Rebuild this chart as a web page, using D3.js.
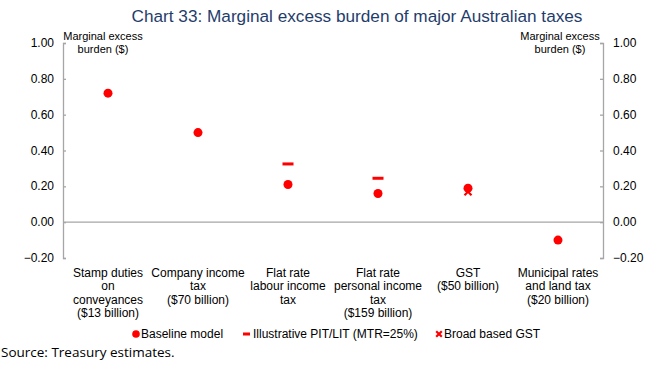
<!DOCTYPE html>
<html><head><meta charset="utf-8">
<script src="https://cdn.jsdelivr.net/npm/d3@7"></script>
<style>body{margin:0;background:#fff}svg{display:block}</style>
</head><body><svg id="c" width="660" height="365"></svg>
<script>
const categories = [
  ["Stamp duties","on","conveyances","($13 billion)"],
  ["Company income","tax","($70 billion)"],
  ["Flat rate","labour income","tax"],
  ["Flat rate","personal income","tax","($159 billion)"],
  ["GST","($50 billion)"],
  ["Municipal rates","and land tax","($20 billion)"]
];
const baseline = [0.72, 0.50, 0.21, 0.16, 0.19, -0.10];
const illustrative = [null, null, 0.325, 0.245, null, null];
const broadGST = [null, null, null, null, 0.17, null];
const yTicks = [-0.2, 0, 0.2, 0.4, 0.6, 0.8, 1.0];
const title = "Chart 33: Marginal excess burden of major Australian taxes";
const legendItems = ["Baseline model", "Illustrative PIT/LIT (MTR=25%)", "Broad based GST"];

const svg = d3.select("#c");
const font = "Liberation Sans, Arial, sans-serif";
const red = "#ff0000", grey = "#a6a6a6";
const L = 63, R = 603, T = 43, B = 258;
const x = d3.scaleBand().domain(d3.range(categories.length)).range([L, R]);
const y = d3.scaleLinear().domain([-0.2, 1.0]).range([B, T]);
const cx = i => x(i) + x.bandwidth()/2;

svg.append("text").attr("x", 357).attr("y", 22).attr("text-anchor","middle")
  .attr("font-family", font).attr("font-size", 17.2).attr("fill","#1f3d6b").text(title);

// axes
const fmt = d3.format(".2f");
const la = svg.append("g").attr("transform",`translate(${L},0)`)
  .call(d3.axisRight(y).tickValues(yTicks).tickSize(3).tickFormat(""));
const ra = svg.append("g").attr("transform",`translate(${R},0)`)
  .call(d3.axisLeft(y).tickValues(yTicks).tickSize(3).tickFormat(""));
[la, ra].forEach(g => { g.select(".domain").attr("stroke", grey).attr("stroke-width",1.3);
  g.selectAll(".tick line").attr("stroke", grey).attr("stroke-width",1.3); });
yTicks.forEach(t => {
  svg.append("text").attr("x", 54).attr("y", y(t)+4).attr("text-anchor","end")
    .attr("font-family", font).attr("font-size", 12).attr("fill","#000").text(fmt(t));
  svg.append("text").attr("x", 613).attr("y", y(t)+4)
    .attr("font-family", font).attr("font-size", 12).attr("fill","#000").text(fmt(t));
});
svg.append("line").attr("x1", L).attr("x2", R).attr("y1", y(0)).attr("y2", y(0))
  .attr("stroke", grey).attr("stroke-width", 1.3);

// axis titles
[[103, "Marginal excess", 40], [103, "burden ($)", 53], [560, "Marginal excess", 40], [560, "burden ($)", 53]]
  .forEach(([px, t, py]) => svg.append("text").attr("x", px).attr("y", py).attr("text-anchor","middle")
    .attr("font-family", font).attr("font-size", 11).text(t));

// category labels
categories.forEach((lines, i) => {
  lines.forEach((ln, j) => svg.append("text").attr("x", cx(i)).attr("y", 277 + j*13.3)
    .attr("text-anchor","middle").attr("font-family", font).attr("font-size", 12).text(ln));
});

// marks
svg.selectAll(".dot").data(baseline).join("circle")
  .attr("cx", (d,i) => cx(i)).attr("cy", d => y(d)).attr("r", 4.5).attr("fill", red);
svg.selectAll(".dash").data(illustrative.map((v,i)=>[v,i]).filter(d=>d[0]!==null)).join("rect")
  .attr("x", d => cx(d[1]) - 5.5).attr("y", d => y(d[0]) - 1.5).attr("width", 11).attr("height", 3).attr("fill", red);
const cross = (g, px, py, s) => {
  g.append("path").attr("d", `M${px-s},${py-s}L${px+s},${py+s}M${px-s},${py+s}L${px+s},${py-s}`)
    .attr("stroke", red).attr("stroke-width", 2.2);
};
broadGST.forEach((v,i) => { if (v !== null) cross(svg, cx(i), y(v), 3.5); });

// legend
const ly = 334;
svg.append("circle").attr("cx", 136).attr("cy", ly).attr("r", 3.8).attr("fill", red);
svg.append("text").attr("x", 141).attr("y", ly+4).attr("font-family", font).attr("font-size", 12).text(legendItems[0]);
svg.append("rect").attr("x", 243).attr("y", ly-1.5).attr("width", 7).attr("height", 3).attr("fill", red);
svg.append("text").attr("x", 253).attr("y", ly+4).attr("font-family", font).attr("font-size", 12).text(legendItems[1]);
cross(svg, 439, ly, 2.8);
svg.append("text").attr("x", 444).attr("y", ly+4).attr("font-family", font).attr("font-size", 12).text(legendItems[2]);

svg.append("text").attr("x", 1).attr("y", 357).attr("font-family", "Open Sans, sans-serif").attr("font-size", 13.5)
  .text("Source: Treasury estimates.");
</script></body></html>
